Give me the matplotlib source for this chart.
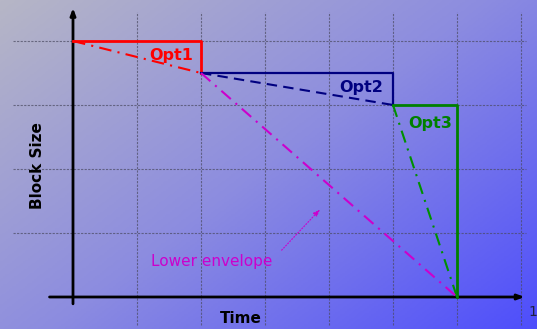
import numpy as np
import matplotlib.pyplot as plt
from matplotlib.colors import LinearSegmentedColormap

# step schedule (time, block size)
opt1_x = [0, 2, 2]
opt1_y = [4, 4, 3.5]
opt2_x = [2, 5, 5]
opt2_y = [3.5, 3.5, 3]
opt3_x = [5, 6, 6]
opt3_y = [3, 3, 0]

# diagonals joining the corners
env1_x, env1_y = [0, 2], [4, 3.5]
env2_x, env2_y = [2, 5], [3.5, 3]
env3_x, env3_y = [5, 6], [3, 0]
lower_x, lower_y = [2, 6], [3.5, 0]

grid_x = [1, 2, 3, 4, 5, 6, 7]
grid_y = [1, 2, 3, 4]

labels = ["Opt1", "Opt2", "Opt3"]
label_pos = [(1.53, 3.77), (4.5, 3.28), (5.58, 2.71)]
label_colors = ["#ff0000", "#000080", "#008000"]

fig = plt.figure(figsize=(5.37, 3.29), dpi=100)
ax = fig.add_axes([0, 0, 1, 1])
x0, x1 = -73 / 64, 464 / 64
y0, y1 = -32 / 64, 297 / 64
ax.set_xlim(x0, x1)
ax.set_ylim(y0, y1)
ax.axis("off")

# diagonal background gradient
cmap = LinearSegmentedColormap.from_list("bg", ["#b6b6c6", "#8c8ce0", "#4e4efc"])
gx, gy = np.meshgrid(np.linspace(0, 1, 300), np.linspace(0, 1, 200))
grad = 0.55 * gx + 0.45 * (1 - gy)
ax.imshow(grad, cmap=cmap, extent=(x0, x1, y1, y0), aspect="auto", zorder=0)
ax.set_ylim(y0, y1)

# grid
gstyle = dict(color="#4a4a60", lw=0.8, ls=(0, (2, 1.2)), alpha=0.7, zorder=1)
for gxv in grid_x:
    ax.plot([gxv, gxv], [-0.44, 4.45], **gstyle)
for gyv in grid_y:
    ax.plot([-0.93, 7.08], [gyv, gyv], **gstyle)

# axes arrows
ax.annotate("", xy=(7.1, 0), xytext=(-0.41, 0),
            arrowprops=dict(arrowstyle="-|>,head_length=0.4,head_width=0.15", color="black", lw=2), zorder=3)
ax.annotate("", xy=(0, 4.56), xytext=(0, -0.15),
            arrowprops=dict(arrowstyle="-|>,head_length=0.4,head_width=0.15", color="black", lw=2), zorder=3)

# steps
ax.plot(opt1_x, opt1_y, color="#ff0000", lw=2, zorder=4)
ax.plot(opt2_x, opt2_y, color="#000080", lw=1.6, zorder=4)
ax.plot(opt3_x, opt3_y, color="#008000", lw=2, zorder=4)

# diagonals
ax.plot(env1_x, env1_y, color="#ff0000", lw=1.5, ls=(0, (6, 3, 1, 3)), zorder=4)
ax.plot(env2_x, env2_y, color="#000080", lw=1.5, ls=(0, (5, 3)), zorder=4)
ax.plot(env3_x, env3_y, color="#009000", lw=1.5, ls=(0, (6, 3, 1, 3)), zorder=4)
ax.plot(lower_x, lower_y, color="#cc00cc", lw=1.5, ls=(0, (6, 3, 1, 3)), zorder=4)

for lab, (lx, ly), c in zip(labels, label_pos, label_colors):
    ax.text(lx, ly, lab, color=c, fontsize=11.5, fontweight="bold", ha="center", va="center", zorder=5)

ax.text(2.17, 0.56, "Lower envelope", color="#cc00cc", fontsize=11, ha="center", va="center", zorder=5)
ax.annotate("", xy=(3.89, 1.4), xytext=(3.23, 0.7),
            arrowprops=dict(arrowstyle="-|>,head_length=0.4,head_width=0.15", color="#cc00cc",
                            lw=0.8, ls=":"), zorder=5)

ax.text(-0.56, 2.05, "Block Size", rotation=90, fontsize=11, fontweight="bold", ha="center", va="center")
ax.text(2.62, -0.34, "Time", fontsize=11, fontweight="bold", ha="center", va="center")
ax.text(7.12, -0.23, "1", fontsize=10, color="#202040", ha="left", va="center")

fig.savefig("out.png", dpi=100)
